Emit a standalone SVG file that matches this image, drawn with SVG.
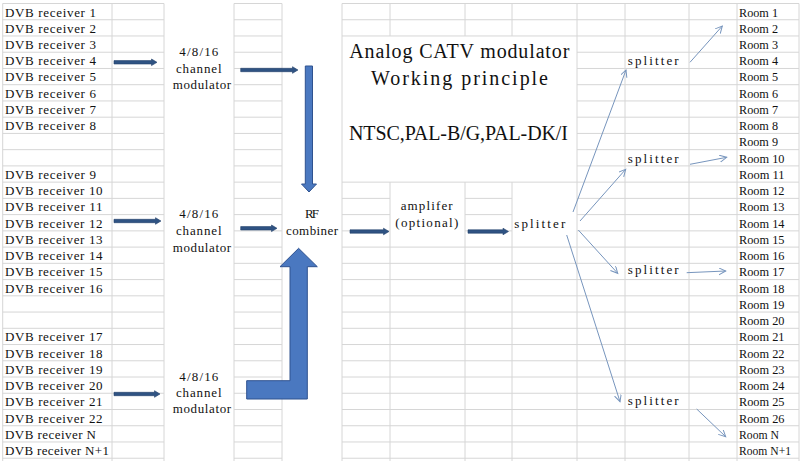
<svg xmlns="http://www.w3.org/2000/svg" width="800" height="461" viewBox="0 0 800 461">
<style>
.grid{stroke:#d6d6d6;stroke-width:1;fill:none}
.t{font-family:"Liberation Serif","DejaVu Serif",serif;font-size:13px;fill:#111}
.title{font-family:"Liberation Serif","DejaVu Serif",serif;font-size:20px;fill:#111}
.sa{fill:#2f5383;stroke:#22406a;stroke-width:0.6}
.ba{fill:#4a78c0;stroke:#2f528f;stroke-width:1}
.thin{stroke:#7795bd;stroke-width:1;fill:none;marker-end:url(#oh)}
</style>
<defs>
<marker id="oh" markerWidth="10" markerHeight="10" refX="7" refY="3.5" orient="auto" markerUnits="userSpaceOnUse">
<path d="M0,0 L7,3.5 L0,7" fill="none" stroke="#7795bd" stroke-width="1"/>
</marker>
</defs>
<rect width="800" height="461" fill="#fff"/>
<g id="grid" class="grid">
<path d="M2.7 3.5H164M234 3.5H282M2.7 19.74H164M234 19.74H282M2.7 35.98H164M234 35.98H282M2.7 52.22H164M234 52.22H282M2.7 68.46H164M234 68.46H282M2.7 84.7H164M234 84.7H282M2.7 100.94H164M234 100.94H282M2.7 117.18H164M234 117.18H282M2.7 133.42H164M234 133.42H282M2.7 149.66H164M234 149.66H282M2.7 165.9H164M234 165.9H282M2.7 182.14H164M234 182.14H282M2.7 198.38H164M234 198.38H282M2.7 214.62H164M234 214.62H282M2.7 230.86H164M234 230.86H282M2.7 247.1H164M234 247.1H282M2.7 263.34H164M234 263.34H282M2.7 279.58H164M234 279.58H282M2.7 295.82H164M234 295.82H282M2.7 312.06H164M234 312.06H282M2.7 328.3H164M234 328.3H282M2.7 344.54H164M234 344.54H282M2.7 360.78H164M234 360.78H282M2.7 377.02H164M234 377.02H282M2.7 393.26H164M234 393.26H282M2.7 409.5H164M234 409.5H282M2.7 425.74H164M234 425.74H282M2.7 441.98H164M234 441.98H282M2.7 458.22H164M234 458.22H282"/>
<path d="M342 3.5H799M342 19.74H799M342 35.98H799M577 52.22H799M577 68.46H799M577 84.7H799M577 100.94H799M577 117.18H799M577 133.42H799M577 149.66H799M577 165.9H799M342 182.14H799M342 198.38H390M465 198.38H512M577 198.38H799M342 214.62H390M465 214.62H512M577 214.62H799M342 230.86H390M465 230.86H512M577 230.86H799M342 247.1H799M342 263.34H799M342 279.58H799M342 295.82H799M342 312.06H799M342 328.3H799M342 344.54H799M342 360.78H799M342 377.02H799M342 393.26H799M342 409.5H799M342 425.74H799M342 441.98H799M342 458.22H799"/>
<path d="M2.7 3.5V461M112 3.5V461M164 3.5V461M234 3.5V461M282 3.5V461M342 3.5V461M577 3.5V461M625 3.5V461M689 3.5V461M737 3.5V461M799 3.5V461M390 3.5V35.98M465 3.5V35.98M512 3.5V35.98M390 182.14V461M465 182.14V461M512 182.14V461"/>
</g>
<g id="receivers" class="t">
<g id="rx1"><text x="5" y="16.5" textLength="91" lengthAdjust="spacing">DVB receiver 1</text></g>
<g id="rx2"><text x="5" y="32.74" textLength="91" lengthAdjust="spacing">DVB receiver 2</text></g>
<g id="rx3"><text x="5" y="48.98" textLength="91" lengthAdjust="spacing">DVB receiver 3</text></g>
<g id="rx4"><text x="5" y="65.22" textLength="91" lengthAdjust="spacing">DVB receiver 4</text></g>
<g id="rx5"><text x="5" y="81.46" textLength="91" lengthAdjust="spacing">DVB receiver 5</text></g>
<g id="rx6"><text x="5" y="97.7" textLength="91" lengthAdjust="spacing">DVB receiver 6</text></g>
<g id="rx7"><text x="5" y="113.94" textLength="91" lengthAdjust="spacing">DVB receiver 7</text></g>
<g id="rx8"><text x="5" y="130.18" textLength="91" lengthAdjust="spacing">DVB receiver 8</text></g>
<g id="rx9"><text x="5" y="178.9" textLength="91" lengthAdjust="spacing">DVB receiver 9</text></g>
<g id="rx10"><text x="5" y="195.14" textLength="97.5" lengthAdjust="spacing">DVB receiver 10</text></g>
<g id="rx11"><text x="5" y="211.38" textLength="97.5" lengthAdjust="spacing">DVB receiver 11</text></g>
<g id="rx12"><text x="5" y="227.62" textLength="97.5" lengthAdjust="spacing">DVB receiver 12</text></g>
<g id="rx13"><text x="5" y="243.86" textLength="97.5" lengthAdjust="spacing">DVB receiver 13</text></g>
<g id="rx14"><text x="5" y="260.1" textLength="97.5" lengthAdjust="spacing">DVB receiver 14</text></g>
<g id="rx15"><text x="5" y="276.34" textLength="97.5" lengthAdjust="spacing">DVB receiver 15</text></g>
<g id="rx16"><text x="5" y="292.58" textLength="97.5" lengthAdjust="spacing">DVB receiver 16</text></g>
<g id="rx17"><text x="5" y="341.3" textLength="97.5" lengthAdjust="spacing">DVB receiver 17</text></g>
<g id="rx18"><text x="5" y="357.54" textLength="97.5" lengthAdjust="spacing">DVB receiver 18</text></g>
<g id="rx19"><text x="5" y="373.78" textLength="97.5" lengthAdjust="spacing">DVB receiver 19</text></g>
<g id="rx20"><text x="5" y="390.02" textLength="97.5" lengthAdjust="spacing">DVB receiver 20</text></g>
<g id="rx21"><text x="5" y="406.26" textLength="97.5" lengthAdjust="spacing">DVB receiver 21</text></g>
<g id="rx22"><text x="5" y="422.5" textLength="97.5" lengthAdjust="spacing">DVB receiver 22</text></g>
<g id="rxN"><text x="5" y="438.74" textLength="91" lengthAdjust="spacing">DVB receiver N</text></g>
<g id="rxN1"><text x="5" y="454.98" textLength="104" lengthAdjust="spacing">DVB receiver N+1</text></g>
</g>
<g id="rooms" class="t">
<g id="room1"><text x="739" y="16.5" textLength="39" lengthAdjust="spacingAndGlyphs">Room 1</text></g>
<g id="room2"><text x="739" y="32.74" textLength="39" lengthAdjust="spacingAndGlyphs">Room 2</text></g>
<g id="room3"><text x="739" y="48.98" textLength="39" lengthAdjust="spacingAndGlyphs">Room 3</text></g>
<g id="room4"><text x="739" y="65.22" textLength="39" lengthAdjust="spacingAndGlyphs">Room 4</text></g>
<g id="room5"><text x="739" y="81.46" textLength="39" lengthAdjust="spacingAndGlyphs">Room 5</text></g>
<g id="room6"><text x="739" y="97.7" textLength="39" lengthAdjust="spacingAndGlyphs">Room 6</text></g>
<g id="room7"><text x="739" y="113.94" textLength="39" lengthAdjust="spacingAndGlyphs">Room 7</text></g>
<g id="room8"><text x="739" y="130.18" textLength="39" lengthAdjust="spacingAndGlyphs">Room 8</text></g>
<g id="room9"><text x="739" y="146.42" textLength="39" lengthAdjust="spacingAndGlyphs">Room 9</text></g>
<g id="room10"><text x="739" y="162.66" textLength="45.5" lengthAdjust="spacingAndGlyphs">Room 10</text></g>
<g id="room11"><text x="739" y="178.9" textLength="45.5" lengthAdjust="spacingAndGlyphs">Room 11</text></g>
<g id="room12"><text x="739" y="195.14" textLength="45.5" lengthAdjust="spacingAndGlyphs">Room 12</text></g>
<g id="room13"><text x="739" y="211.38" textLength="45.5" lengthAdjust="spacingAndGlyphs">Room 13</text></g>
<g id="room14"><text x="739" y="227.62" textLength="45.5" lengthAdjust="spacingAndGlyphs">Room 14</text></g>
<g id="room15"><text x="739" y="243.86" textLength="45.5" lengthAdjust="spacingAndGlyphs">Room 15</text></g>
<g id="room16"><text x="739" y="260.1" textLength="45.5" lengthAdjust="spacingAndGlyphs">Room 16</text></g>
<g id="room17"><text x="739" y="276.34" textLength="45.5" lengthAdjust="spacingAndGlyphs">Room 17</text></g>
<g id="room18"><text x="739" y="292.58" textLength="45.5" lengthAdjust="spacingAndGlyphs">Room 18</text></g>
<g id="room19"><text x="739" y="308.82" textLength="45.5" lengthAdjust="spacingAndGlyphs">Room 19</text></g>
<g id="room20"><text x="739" y="325.06" textLength="45.5" lengthAdjust="spacingAndGlyphs">Room 20</text></g>
<g id="room21"><text x="739" y="341.3" textLength="45.5" lengthAdjust="spacingAndGlyphs">Room 21</text></g>
<g id="room22"><text x="739" y="357.54" textLength="45.5" lengthAdjust="spacingAndGlyphs">Room 22</text></g>
<g id="room23"><text x="739" y="373.78" textLength="45.5" lengthAdjust="spacingAndGlyphs">Room 23</text></g>
<g id="room24"><text x="739" y="390.02" textLength="45.5" lengthAdjust="spacingAndGlyphs">Room 24</text></g>
<g id="room25"><text x="739" y="406.26" textLength="45.5" lengthAdjust="spacingAndGlyphs">Room 25</text></g>
<g id="room26"><text x="739" y="422.5" textLength="45.5" lengthAdjust="spacingAndGlyphs">Room 26</text></g>
<g id="roomN"><text x="739" y="438.74" textLength="40" lengthAdjust="spacingAndGlyphs">Room N</text></g>
<g id="roomN1"><text x="739" y="454.98" textLength="52" lengthAdjust="spacingAndGlyphs">Room N+1</text></g>
</g>
<g id="mod1" class="t"><text x="179.3" y="56" textLength="39" lengthAdjust="spacing">4/8/16</text><text x="176" y="72.5" textLength="45.5" lengthAdjust="spacing">channel</text><text x="172.7" y="89" textLength="58.5" lengthAdjust="spacing">modulator</text></g>
<g id="mod2" class="t"><text x="179.3" y="217.7" textLength="39" lengthAdjust="spacing">4/8/16</text><text x="176" y="235" textLength="45.5" lengthAdjust="spacing">channel</text><text x="172.7" y="251.7" textLength="58.5" lengthAdjust="spacing">modulator</text></g>
<g id="mod3" class="t"><text x="179.3" y="380.5" textLength="39" lengthAdjust="spacing">4/8/16</text><text x="176" y="397" textLength="45.5" lengthAdjust="spacing">channel</text><text x="172.7" y="413.3" textLength="58.5" lengthAdjust="spacing">modulator</text></g>
<g id="combiner" class="t"><text x="305" y="217.7" textLength="14" lengthAdjust="spacing">RF</text><text x="286" y="235" textLength="52" lengthAdjust="spacing">combiner</text></g>
<g id="amplifier" class="t"><text x="400.7" y="210" textLength="52" lengthAdjust="spacing">amplifer</text><text x="395.3" y="226.5" textLength="63" lengthAdjust="spacing">(optional)</text></g>
<g id="splitter0" class="t"><text x="514.3" y="227.7" textLength="51" lengthAdjust="spacing">splitter</text></g>
<g id="splitter1" class="t"><text x="627.7" y="65" textLength="51" lengthAdjust="spacing">splitter</text></g>
<g id="splitter2" class="t"><text x="627.7" y="163.3" textLength="51" lengthAdjust="spacing">splitter</text></g>
<g id="splitter3" class="t"><text x="627.7" y="274.3" textLength="51" lengthAdjust="spacing">splitter</text></g>
<g id="splitter4" class="t"><text x="627.7" y="405" textLength="51" lengthAdjust="spacing">splitter</text></g>
<g id="title" class="title">
<text x="349.3" y="57.5" textLength="220" lengthAdjust="spacing">Analog CATV modulator</text>
<text x="371" y="85" textLength="177" lengthAdjust="spacing">Working principle</text>
<text x="349" y="140" textLength="219" lengthAdjust="spacing">NTSC,PAL-B/G,PAL-DK/I</text>
</g>
<g id="connectors">
<polygon class="sa" points="114,60.6 151.5,60.6 151.5,59 157,62.3 151.5,65.6 151.5,64 114,64"/>
<polygon class="sa" points="240.7,68.3 292.5,68.3 292.5,66.7 298,70 292.5,73.3 292.5,71.7 240.7,71.7"/>
<polygon class="sa" points="114,219.3 155.5,219.3 155.5,217.7 161,221 155.5,224.3 155.5,222.7 114,222.7"/>
<polygon class="sa" points="240.7,226.6 271.5,226.6 271.5,225 277,228.3 271.5,231.6 271.5,230 240.7,230"/>
<polygon class="sa" points="114,392.3 154.5,392.3 154.5,390.7 160,394 154.5,397.3 154.5,395.7 114,395.7"/>
<polygon class="sa" points="350,229.8 383.5,229.8 383.5,228.2 389,231.5 383.5,234.8 383.5,233.2 350,233.2"/>
<polygon class="sa" points="468,229.8 503,229.8 503,228.2 508.5,231.5 503,234.8 503,233.2 468,233.2"/>
<polygon class="ba" points="305.3,66 312.5,66 312.5,184 316.5,184 309,192 301.5,184 305.3,184"/>
<polygon class="ba" points="298.6,248.3 317.3,266.7 307.3,266.7 307.3,399 246.7,399 246.7,380.7 290,380.7 290,266.7 280,266.7"/>
<line class="thin" x1="573" y1="212" x2="626" y2="70"/>
<line class="thin" x1="580" y1="221" x2="625.7" y2="169.3"/>
<line class="thin" x1="578.3" y1="230" x2="617.7" y2="273.3"/>
<line class="thin" x1="566.7" y1="235" x2="620" y2="401.7"/>
<line class="thin" x1="690" y1="62.3" x2="722.3" y2="26"/>
<line class="thin" x1="690" y1="164.3" x2="726.7" y2="157.3"/>
<line class="thin" x1="686.7" y1="272.7" x2="725.7" y2="271"/>
<line class="thin" x1="696.7" y1="409" x2="725.7" y2="436.7"/>
</g>
</svg>
